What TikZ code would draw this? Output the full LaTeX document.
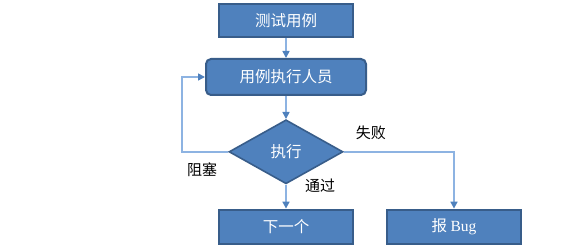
\documentclass[tikz,border=0pt]{standalone}
\usepackage{fontspec}
\setmainfont{Liberation Serif}
\newfontfamily\cjk{Noto Sans CJK SC}
\usepackage{xcolor}
\usepackage{tikz}
\usetikzlibrary{
  positioning, arrows.meta, shapes.geometric, calc
}
\definecolor{tcfill}{HTML}{4F81BD}
\definecolor{tcedge}{HTML}{385D8A}
\definecolor{tcline}{HTML}{8DB3E2}

\begin{document}
\begin{tikzpicture}[
  x=1pt, y=1pt,
  stepbox/.style={
    rectangle, draw=tcedge, fill=tcfill, line width=2pt,
    minimum width=#1, minimum height=33pt,
    text=white, font=\cjk\fontsize{15.5}{18}\selectfont, inner sep=2pt
  },
  stepbox/.default=134pt,
  decide/.style={
    diamond, aspect=1.78, draw=tcedge, fill=tcfill, line width=1.6pt,
    minimum width=114pt, minimum height=64pt, inner sep=0pt,
    text=white, font=\cjk\fontsize{15.5}{18}\selectfont
  },
  flow/.style={
    draw=tcline, line width=1.6pt,
    -{Triangle[length=7pt, width=7pt, color=tcfill]}
  },
  lbl/.style={font=\cjk\fontsize{15}{18}\selectfont, text=black},
]
\useasboundingbox (0,0) rectangle (576,-246);

% test cases
\node[stepbox] (cases) at (286,-21) {测试用例};

% tester
\node[stepbox=160pt, rounded corners=5pt, minimum height=36pt,
  below=19.5pt of cases] (tester) {用例执行人员};

% decision
\node[decide, below=23pt of tester] (run) {执行};

% outcomes
\node[stepbox, minimum height=34pt, below=24pt of run] (next) {下一个};
\node[stepbox, minimum height=34pt, right=32pt of next] (bug) {{\cjk 报} \fontspec{Liberation Serif}Bug};

% connectors
\draw[flow] (cases) -- (tester);
\draw[flow] (tester) -- (run);
\draw[flow] (run) -- (next);
\draw[flow] (run.east) -| (bug.north);
\draw[flow] (run.west) -| ([xshift=-23pt]tester.west) -- (tester.west);

% labels
\node[lbl] (lblock) at ([shift={(-26pt,-18pt)}]run.west) {阻塞};
\node[lbl] (lfail) at ([shift={(27pt,19pt)}]run.east) {失败};
\node[lbl] (lpass) at ([shift={(34pt,-1pt)}]run.south) {通过};

\end{tikzpicture}
\end{document}
